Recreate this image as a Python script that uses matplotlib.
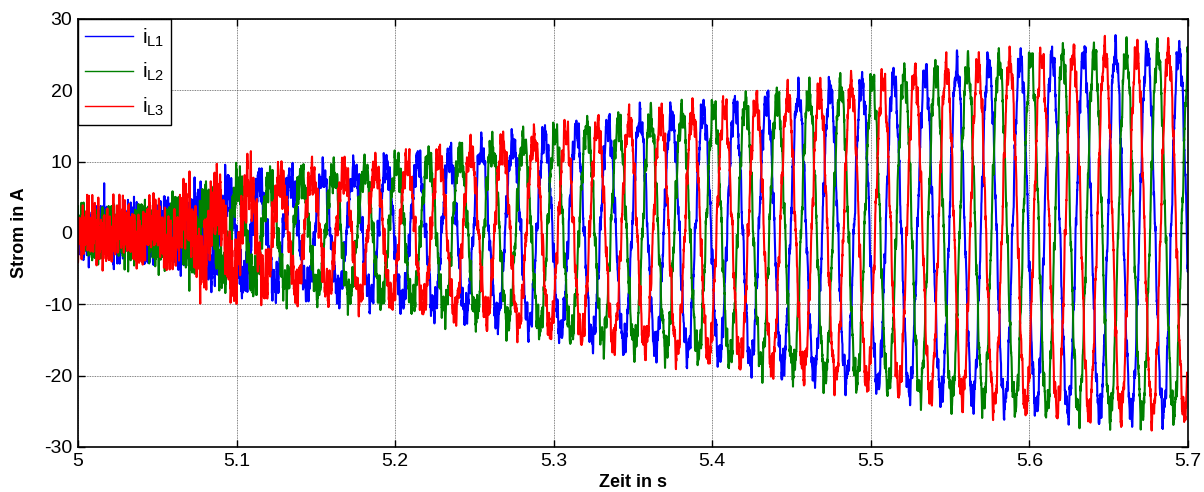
import matplotlib
matplotlib.use("Agg")
import matplotlib.pyplot as plt
import numpy as np

plt.rcParams['font.family'] = ['Liberation Sans', 'DejaVu Sans']
plt.rcParams['axes.unicode_minus'] = False

# Netzfrequenz und Phasenlage (Maximum von i_L1 bei 5.6143 s)
f_netz = 50.0
t_peak_L1 = 5.6143
phase_shift = [0.0, -120.0, -240.0]  # L1, L2, L3 in Grad

# Amplitude der Grundschwingung ueber der Zeit
env_t = [5.00, 5.05, 5.08, 5.10, 5.15, 5.20, 5.25, 5.30, 5.35, 5.40, 5.45, 5.50, 5.55, 5.60, 5.65, 5.70]
env_a = [0.8, 1.5, 4.0, 6.5, 8.0, 9.5, 11.5, 13.8, 15.8, 17.3, 19.3, 21.3, 23.2, 24.6, 25.5, 25.5]

# Welligkeit (Schaltripple) je Phase ueber der Zeit
rip_t = [5.00, 5.06, 5.08, 5.10, 5.13, 5.20, 5.70]
rip_L1 = [2.6, 2.6, 3.0, 2.8, 2.5, 2.4, 2.2]
rip_L2 = [2.6, 2.6, 3.0, 2.8, 2.5, 2.4, 2.2]
rip_L3 = [3.0, 3.0, 5.5, 5.0, 3.0, 2.4, 2.2]

# hochfrequenter Anteil (Rauschen am Anfang)
hf_t = [5.00, 5.07, 5.10, 5.15, 5.70]
hf_a = [1.8, 1.8, 1.4, 0.6, 0.5]

# einzelne Spitzen am Anfang (Zeit, Wert)
spikes_L1 = [(5.0165, 6.0)]
spikes_L2 = [(5.0040, 1.5)]
spikes_L3 = [(5.0057, 7.5)]

rip_freq = [520.0, 830.0, 1270.0]
rip_weight = [0.55, 0.30, 0.22]
hf_freq = [2330.0, 3170.0, 4190.0]

legend_labels = [r'$\mathregular{i_{L1}}$', r'$\mathregular{i_{L2}}$', r'$\mathregular{i_{L3}}$']
colors = ['#0000ff', '#008000', '#ff0000']

dt = 1e-4
t = np.arange(5.0, 5.7 + dt / 2, dt)


def make_current(k, rip, spikes):
    a = np.interp(t, env_t, env_a)
    r = np.interp(t, rip_t, rip)
    h = np.interp(t, hf_t, hf_a)
    w = 2 * np.pi * f_netz
    base = a * np.cos(w * (t - t_peak_L1) + np.deg2rad(phase_shift[k]))
    ripple = np.zeros_like(t)
    for j in range(len(rip_freq)):
        ripple += rip_weight[j] * np.sin(2 * np.pi * rip_freq[j] * t + 2.1 * k + 0.7 * j)
    hf = np.zeros_like(t)
    for j in range(len(hf_freq)):
        hf += np.sin(2 * np.pi * hf_freq[j] * t + 1.3 * k + 0.9 * j) / len(hf_freq)
    i = base + r * ripple + 1.6 * h * hf
    for ts, val in spikes:
        idx = np.argmin(np.abs(t - ts))
        i[idx] += val
    return i


currents = [make_current(0, rip_L1, spikes_L1),
            make_current(1, rip_L2, spikes_L2),
            make_current(2, rip_L3, spikes_L3)]

fig = plt.figure(figsize=(12.04, 4.92), dpi=100)
ax = fig.add_axes([0.0648, 0.0915, 0.9219, 0.8699])

for k in range(3):
    ax.plot(t, currents[k], color=colors[k], lw=1.5, label=legend_labels[k])

ax.set_xlim(5.0, 5.7)
ax.set_ylim(-30, 30)
ax.set_xticks([5.0, 5.1, 5.2, 5.3, 5.4, 5.5, 5.6, 5.7])
ax.set_xticklabels(['5', '5.1', '5.2', '5.3', '5.4', '5.5', '5.6', '5.7'])
ax.set_yticks([-30, -20, -10, 0, 10, 20, 30])
ax.tick_params(direction='in', top=True, right=True, labelsize=14, length=5, width=1, pad=4)
ax.grid(True, color='0.35', lw=0.6, ls=(0, (1, 1)))
for s in ax.spines.values():
    s.set_linewidth(1.2)

ax.set_xlabel('Zeit in s', fontsize=13, fontweight='bold', labelpad=3)
ax.set_ylabel('Strom in A', fontsize=13, fontweight='bold', labelpad=12)

leg = ax.legend(loc='upper left', fontsize=15, fancybox=False, framealpha=1,
                edgecolor='black', borderaxespad=0, handlelength=2.3,
                handletextpad=0.4, borderpad=0.35, labelspacing=0.6)
leg.get_frame().set_linewidth(1.0)
for line in leg.get_lines():
    line.set_linewidth(1.0)

fig.savefig('out.png', dpi=100)
